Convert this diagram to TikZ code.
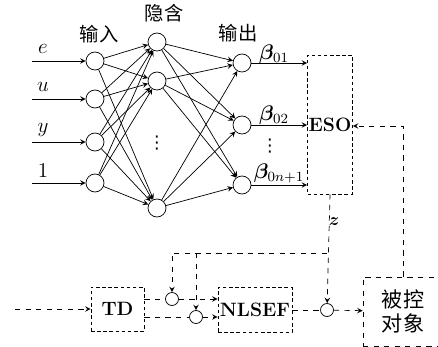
\documentclass[tikz,border=0pt]{standalone}
\usepackage{amsmath,amssymb,bm}
\usepackage{fontspec}
\newfontfamily\cjk{Noto Sans CJK SC}
\newfontfamily\symfont{DejaVu Sans}
\usetikzlibrary{calc,positioning}
\tikzset{
  neuron/.style={circle, draw, minimum size=0.36cm, inner sep=0pt},
  sumnode/.style={circle, draw, minimum size=0.26cm, inner sep=0pt},
  blockbox/.style={draw, dash pattern=on 2pt off 1.5pt, inner sep=0pt, font=\bfseries\fontsize{11}{12}\selectfont},
  cjklabel/.style={font=\cjk\fontsize{11}{13}\selectfont},
  dotsnode/.style={inner sep=0pt, font=\symfont\fontsize{10}{12}\selectfont},
  wire/.style={->, >=stealth},
  sig/.style={->, >=stealth, dashed}
}

\begin{document}
\begin{tikzpicture}[x=0.02cm, y=-0.02cm]
    \useasboundingbox (0,0) rectangle (438,347);
    % neural network
    \foreach \n/\y/\t in {1/61/e, 2/99/u, 3/142/y, 4/183/1} {
      \node (i\n)[neuron] at (95,\y) {};
      \coordinate (in\n) at (32,\y);
      \node (lab\n)[font=\large] at (43,\y-12) {$\t$};
      \draw[wire] (in\n) -- (i\n);
    }
    \foreach \n/\y in {1/42, 2/81, 4/208}
      \node (h\n)[neuron] at (157,\y) {};
    \node (hdots)[dotsnode] at (157,143) {⋮};
    \foreach \n/\y in {1/63, 2/125, 3/185}
      \node (o\n)[neuron] at (242,\y) {};
    \foreach \a in {1,2,3,4}
      \foreach \b in {1,2,4}
        \draw[wire] (i\a) -- (h\b);
    \foreach \b in {1,2,4}
      \foreach \c in {1,2,3}
        \draw[wire] (h\b) -- (o\c);
    \node (tin)[cjklabel] at (99,34) {输入};
    \node (thid)[cjklabel] at (164,13) {隐含};
    \node (tout)[cjklabel] at (238,33) {输出};
    % ESO
    \node (eso)[blockbox, minimum width=0.9cm, minimum height=2.78cm] at (330,124.5) {ESO};
    \foreach \n in {1,2,3}
      \draw[wire] (o\n) -- (eso.west |- o\n);
    \node (b1)[font=\large] at (274,54) {$\bm{\beta}_{01}$};
    \node (b2)[font=\large] at (274,115) {$\bm{\beta}_{02}$};
    \node (bdots)[dotsnode] at (270,146) {⋮};
    \node (b3)[font=\large] at (279,173) {$\bm{\beta}_{0n+1}$};
    % control loop
    \coordinate (src) at (15,309);
    \node (td)[blockbox, minimum width=1.06cm, minimum height=0.88cm] at (117.5,309) {TD};
    \node (s1)[sumnode] at (172,299) {};
    \node (s2)[sumnode] at (196,317) {};
    \node (nlsef)[blockbox, minimum width=1.48cm, minimum height=0.9cm] at (255,310) {NLSEF};
    \node (s3)[sumnode] at (327,310) {};
    \node (plant)[draw, dashed, minimum width=1.6cm, minimum height=1.38cm, align=center,
      font=\cjk\fontsize{12}{14}\selectfont] at (403,311.5) {被控\\对象};
    \draw[sig] (src) -- (td);
    \draw[dashed] (td.east |- s1) -- (s1);
    \draw[dashed] (td.east |- s2) -- (s2);
    \draw[sig] (s1) -- (nlsef.west |- s1);
    \draw[sig] (s2) -- (nlsef.west |- s2);
    \draw[dashed] (nlsef) -- (s3);
    \draw[sig] (s3) -- (plant);
    \coordinate (fork) at (327,253);
    \draw[sig] (eso.south) -- (s3);
    \node (zlab) at (334,222) {$\bm{z}$};
    \draw[sig] (fork) -- (s1.north |- fork) -- (s1);
    \draw[sig] (s2.north |- fork) -- (s2);
    \coordinate (fb) at (403,126);
    \draw[sig] (plant.north) -- (fb) -- (eso.east |- fb);
\end{tikzpicture}
\end{document}
